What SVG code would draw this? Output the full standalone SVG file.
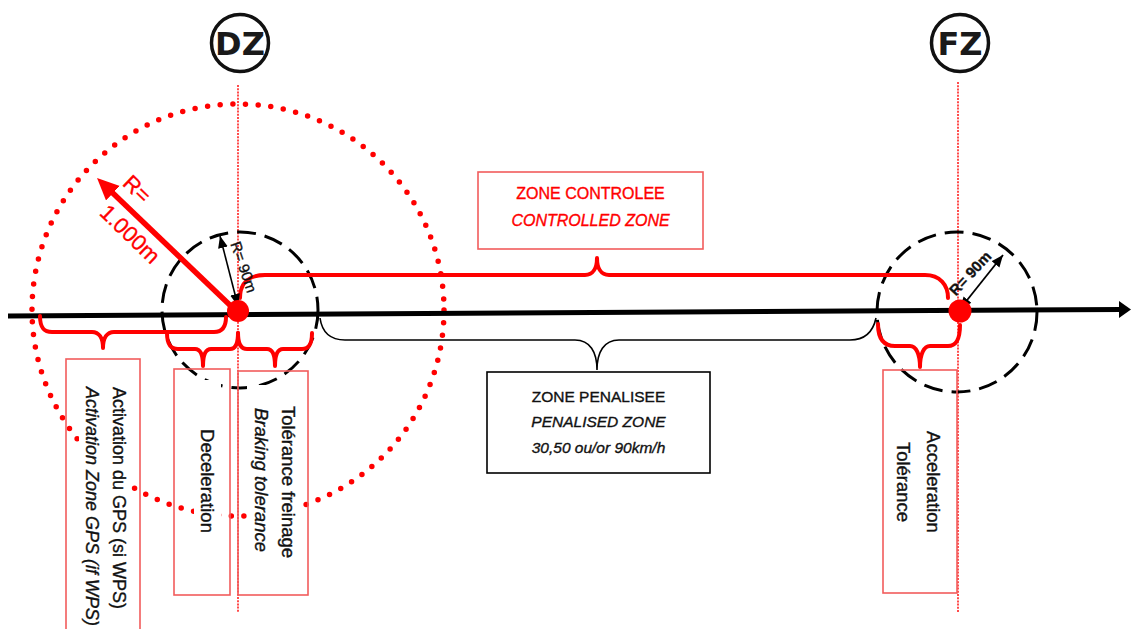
<svg xmlns="http://www.w3.org/2000/svg" width="1131" height="629" viewBox="0 0 1131 629">
<style>
.red{fill:#ff0000}
.lbl{font-family:"Liberation Sans",Arial,sans-serif;stroke-width:0.35}
.k{fill:#111;stroke:#111}
.r{fill:#ff0000;stroke:#ff0000}
.it{font-style:italic}
.box{fill:none;stroke:#f25c5c;stroke-width:1.6}
.rb{fill:none;stroke:#ff0000;stroke-width:4;stroke-linejoin:round;stroke-linecap:round}
.vdot{stroke:#ff0000;stroke-width:1.4;stroke-dasharray:2 1.2}
.dash{fill:none;stroke:#000;stroke-width:3;stroke-dasharray:19 9}
.badge{fill:#fff;stroke:#111;stroke-width:3.5}
.bt{font-family:"DejaVu Sans",sans-serif;font-weight:bold;font-size:32px;fill:#1a1a1a;text-anchor:middle}
.mask{fill:#fff}
</style>
<defs>
<marker id="ah" markerUnits="userSpaceOnUse" markerWidth="14" markerHeight="12" refX="12" refY="5" orient="auto-start-reverse" viewBox="0 0 14 12">
<path d="M0,0 L12,5 L0,10 z" fill="#000"/>
</marker>
<marker id="rh" markerUnits="userSpaceOnUse" markerWidth="24" markerHeight="22" refX="10" refY="10" orient="auto" viewBox="0 0 24 22">
<path d="M0,0 L22,10 L0,20 z" fill="#ff0000"/>
</marker>
</defs>

<g id="activation-zone">
<circle cx="238" cy="310" r="206" fill="none" stroke="#ff0000" stroke-width="5.5" stroke-linecap="round" stroke-dasharray="0 12.7"/>
</g>

<g id="dz">
<circle class="badge" cx="240" cy="43" r="28.5"/>
<text class="bt" x="240" y="55">DZ</text>
<line class="vdot" x1="238" y1="85" x2="238" y2="612"/>
<circle class="dash" cx="240" cy="310" r="78"/>
</g>

<g id="fz">
<circle class="badge" cx="960" cy="43" r="28.5"/>
<text class="bt" x="960" y="55">FZ</text>
<line class="vdot" x1="958" y1="82" x2="958" y2="612"/>
<circle class="dash" cx="957" cy="312" r="80"/>
</g>

<g id="axis">
<line x1="8" y1="316" x2="1122" y2="309.5" stroke="#000" stroke-width="5"/>
<polygon points="1119,301 1131,309.5 1119,318" fill="#000"/>
</g>

<g id="connectors">
<path class="rb" d="M240,298 C240,282 250,275 265,275 L585,275 C593,275 597,268 597,258 C597,268 601,275 609,275 L925,275 C940,275 948,285 948,298"/>
<path fill="none" stroke="#000" stroke-width="1.6" d="M320,318 C322,332 330,340 345,340 L575,340 C590,340 597,352 597,370 C597,352 604,340 619,340 L850,340 C865,340 873,332 876,318"/>
<path class="rb" d="M40,316 C40,328 44,332 52,332 L92,332 C99,332 103,338 103,348 C103,338 107,332 114,332 L214,332 C222,332 226,327 226,317"/>
<path class="rb" d="M167,333 C167,345 171,349 178,349 L195,349 C200,349 203,355 203,366 C203,355 206,349 211,349 L230,349 C236,349 238,343 238,333"/>
<path class="rb" d="M238,333 C238,343 241,349 247,349 L267,349 C272,349 275,355 275,366 C275,355 278,349 283,349 L302,349 C309,349 312,344 312,333"/>
<path class="rb" d="M878,324 C878,339 884,346 895,346 L910,346 C916,346 920,354 920,367 C920,354 924,346 930,346 L948,346 C956,346 960,340 960,325"/>
<line x1="234" y1="309" x2="105.7" y2="186.3" stroke="#ff0000" stroke-width="5.5" marker-end="url(#rh)"/>
<line x1="238" y1="306" x2="220" y2="236" stroke="#000" stroke-width="1.6" marker-start="url(#ah)" marker-end="url(#ah)"/>
<line x1="960" y1="309" x2="1003" y2="255" stroke="#000" stroke-width="1.8" marker-start="url(#ah)" marker-end="url(#ah)"/>
</g>

<g id="dz-point"><circle class="red" cx="238" cy="311" r="11"/></g>
<g id="fz-point"><circle class="red" cx="960" cy="311" r="11.5"/></g>

<g id="radius-labels">
<text class="lbl r" font-size="22" text-anchor="middle" dominant-baseline="central" transform="translate(137,189) rotate(44)">R=</text>
<text class="lbl r" font-size="22" text-anchor="middle" dominant-baseline="central" transform="translate(130,234) rotate(44)">1.000m</text>
<text class="lbl k" font-size="15" text-anchor="middle" dominant-baseline="central" transform="translate(244,267) rotate(71)">R= 90m</text>
<text class="lbl k" font-size="15" font-weight="bold" text-anchor="middle" dominant-baseline="central" transform="translate(970,273) rotate(-47)">R= 90m</text>
</g>

<g id="controlled-zone">
<rect class="box" x="478" y="172" width="225" height="77"/>
<text class="lbl r" font-size="16" text-anchor="middle" x="590.5" y="199">ZONE CONTROLEE</text>
<text class="lbl r it" font-size="16" text-anchor="middle" x="590.5" y="226">CONTROLLED ZONE</text>
</g>

<g id="penalised-zone">
<rect x="487" y="372" width="223" height="101" fill="#fff" stroke="#000" stroke-width="1.6"/>
<text class="lbl k" font-size="15.5" text-anchor="middle" x="598.5" y="402">ZONE PENALISEE</text>
<text class="lbl k it" font-size="15.5" text-anchor="middle" x="598.5" y="427">PENALISED ZONE</text>
<text class="lbl k it" font-size="15.5" text-anchor="middle" x="598.5" y="453">30,50 ou/or 90km/h</text>
</g>

<g id="activation-box">
<rect class="mask" x="79" y="378" width="49" height="251"/>
<rect class="box" x="66" y="359" width="74" height="275"/>
<text class="lbl k" font-size="18" dominant-baseline="central" transform="translate(119,387) rotate(90)">Activation du GPS (si WPS)</text>
<text class="lbl k it" font-size="18" dominant-baseline="central" transform="translate(92,387) rotate(90)">Activation Zone GPS (if WPS)</text>
</g>

<g id="deceleration-box">
<rect class="mask" x="194" y="380" width="27" height="210"/>
<rect class="box" x="174" y="369" width="56" height="226"/>
<text class="lbl k" font-size="18.5" text-anchor="middle" dominant-baseline="central" transform="translate(207,481) rotate(90)">Deceleration</text>
</g>

<g id="braking-box">
<rect class="mask" x="247" y="385" width="52" height="200"/>
<rect class="box" x="238" y="371" width="70" height="224"/>
<text class="lbl k" font-size="18.5" text-anchor="middle" dominant-baseline="central" transform="translate(288,482) rotate(90)">Tolérance freinage</text>
<text class="lbl k it" font-size="18.5" text-anchor="middle" dominant-baseline="central" transform="translate(261,480) rotate(90)">Braking tolerance</text>
</g>

<g id="acceleration-box">
<rect class="box" x="883" y="370" width="74" height="223"/>
<text class="lbl k" font-size="18.5" text-anchor="middle" dominant-baseline="central" transform="translate(933,482) rotate(90)">Acceleration</text>
<text class="lbl k" font-size="18.5" text-anchor="middle" dominant-baseline="central" transform="translate(903,482) rotate(90)">Tolérance</text>
</g>
</svg>
